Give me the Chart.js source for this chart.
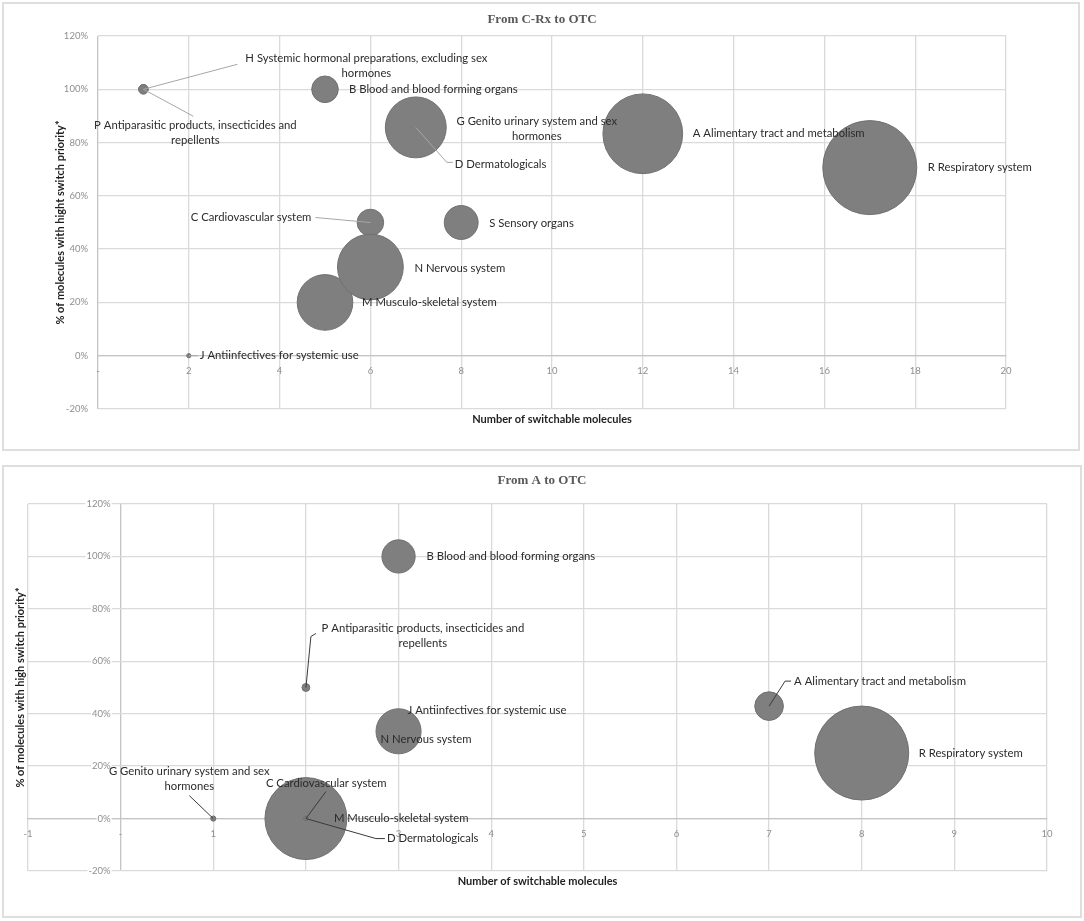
<!DOCTYPE html>
<html><head><meta charset="utf-8">
<script src="https://cdn.jsdelivr.net/npm/chart.js@4.4.1/dist/chart.umd.min.js"></script>
<style>
html,body{margin:0;padding:0;background:#fff;}
body{width:1084px;height:921px;position:relative;overflow:hidden;}
.box{position:absolute;border:2px solid #dedede;box-sizing:border-box;pointer-events:none;}
canvas{position:absolute;left:0;}
</style></head><body>
<div class="box" style="left:2px;top:2px;width:1078px;height:449px"></div>
<div class="box" style="left:2px;top:465px;width:1080px;height:453px"></div>
<canvas id="c1" width="1084" height="456" style="top:0"></canvas>
<canvas id="c2" width="1084" height="465" style="top:456px"></canvas>
<script>
// ---------- DATA: From C-Rx to OTC ----------
const rxCodes = ['A','B','C','D','G','H','J','M','N','P','R','S'];
const rxNames = ['Alimentary tract and metabolism','Blood and blood forming organs','Cardiovascular system','Dermatologicals','Genito urinary system and sex hormones','Systemic hormonal preparations, excluding sex hormones','Antiinfectives for systemic use','Musculo-skeletal system','Nervous system','Antiparasitic products, insecticides and repellents','Respiratory system','Sensory organs'];
const rxMolecules = [12, 5, 6, 7, 7, 1, 2, 5, 6, 1, 17, 8];
const rxHighPct   = [83.3, 100, 50, 85.7, 85.7, 100, 0, 20, 33.3, 100, 70.6, 50];
const rxBubble    = [72, 8, 8, 1, 42, 1, 0.2, 35, 49, 1, 100, 13];

// ---------- DATA: From A to OTC ----------
const aCodes = ['A','B','C','D','G','J','M','N','P','R'];
const aNames = ['Alimentary tract and metabolism','Blood and blood forming organs','Cardiovascular system','Dermatologicals','Genito urinary system and sex hormones','Antiinfectives for systemic use','Musculo-skeletal system','Nervous system','Antiparasitic products, insecticides and repellents','Respiratory system'];
const aMolecules = [7, 3, 2, 2, 1, 3, 2, 3, 2, 8];
const aHighPct   = [42.9, 100, 0, 0, 0, 33.3, 0, 33.3, 50, 25];
const aBubble    = [9.3, 12.5, 76, 0.2, 0.3, 1, 0.2, 23, 0.7, 100];

// ---------- axis ticks ----------
const rxXTicks = {min: 0, max: 20, step: 2};
const aXTicks  = {min: -1, max: 10, step: 1};
const yTicks   = {min: -20, max: 120, step: 20};

// ---------- label placement (pixel offsets from bubble centre) ----------
const rxLabelLayout = {
  A: {dx: 50, dy: 0},
  B: {dx: 24, dy: 0},
  C: {dx: -59, dy: -5, align: 'right', leader: [[0,0],[-55,-5]]},
  D: {dx: 39, dy: 37, leader: [[0,0],[31,35],[37,35]]},
  G: {dx: 121, dy: -6, align: 'center', firstLine: 6},
  H: {dx: 223, dy: -31, align: 'center', firstLine: 6, leader: [[0,0],[94,-25]]},
  J: {dx: 11, dy: 0, leader: [[0,0],[9,0]]},
  M: {dx: 37, dy: 0},
  N: {dx: 44, dy: 1},
  P: {dx: 52, dy: 36, align: 'center', firstLine: 5, leader: [[0,0],[50,27]]},
  R: {dx: 58, dy: 0},
  S: {dx: 28, dy: 1}
};
const aLabelLayout = {
  A: {dx: 25, dy: -25, leader: [[0,0],[16,-25],[22,-25]]},
  B: {dx: 28, dy: 0},
  C: {dx: -40, dy: -35},
  D: {dx: 81, dy: 20, leader: [[0,0],[70,20],[79,20]]},
  G: {dx: -24, dy: -47, align: 'center', firstLine: 6, leader: [[0,0],[-24,-23]]},
  J: {dx: 9, dy: -21},
  M: {dx: 28, dy: 0},
  N: {dx: -18, dy: 8},
  P: {dx: 117, dy: -59, align: 'center', firstLine: 5, leader: [[0,0],[5,-51],[10,-54]]},
  R: {dx: 57, dy: 0}
};
const extraLeaders = { a: {C: [[0,0],[20,-27]]} };

const MAX_R = 47;
const FONT = 'Lato';

function bubbleData(xs, ys, sizes) {
  const mx = Math.max(...sizes);
  return xs.map((x, i) => ({x: x, y: ys[i], r: MAX_R * Math.sqrt(sizes[i] / mx)}));
}

const labelPlugin = {
  id: 'ptLabels',
  afterDatasetsDraw(chart, args, o) {
    const ctx = chart.ctx;
    const meta = chart.getDatasetMeta(0);
    ctx.save();
    o.codes.forEach((code, i) => {
      const el = meta.data[i];
      const L = o.layout[code];
      if (!el || !L) return;
      const cx = el.x, cy = el.y;
      const leader = L.leader || (o.extra && o.extra[code]);
      if (leader) {
        ctx.beginPath();
        leader.forEach((p, k) => { k ? ctx.lineTo(cx + p[0], cy + p[1]) : ctx.moveTo(cx + p[0], cy + p[1]); });
        ctx.strokeStyle = o.leaderColor; ctx.lineWidth = 1; ctx.stroke();
      }
      const text = code + ' ' + o.names[i];
      let lines = [text];
      if (L.firstLine) {
        const w = text.split(' ');
        lines = [w.slice(0, L.firstLine).join(' '), w.slice(L.firstLine).join(' ')];
      }
      ctx.font = '11.3px ' + FONT;
      ctx.fillStyle = '#2b2b2b';
      ctx.textAlign = L.align || 'left';
      ctx.textBaseline = 'middle';
      lines.forEach((ln, k) => ctx.fillText(ln, cx + L.dx, cy + L.dy + k * 15));
    });
    ctx.restore();
  }
};

const decorPlugin = {
  id: 'decor',
  afterDraw(chart, args, o) {
    const ctx = chart.ctx, ca = chart.chartArea;
    ctx.save();
    ctx.textAlign = 'center'; ctx.textBaseline = 'middle';
    ctx.fillStyle = '#595959';
    ctx.font = 'bold 13px "Liberation Serif"';
    ctx.fillText(o.title, chart.width / 2, o.titleY);
    ctx.fillStyle = '#1f1f1f';
    ctx.font = 'bold 11px ' + FONT;
    ctx.fillText(o.xTitle, (ca.left + ca.right) / 2, ca.bottom + 10);
    ctx.translate(o.yTitleX, (ca.top + ca.bottom) / 2);
    ctx.rotate(-Math.PI / 2);
    ctx.fillText(o.yTitle, 0, 0);
    ctx.restore();
  }
};

function makeChart(id, cfg) {
  const tickFont = {family: FONT, size: 9.5};
  new Chart(document.getElementById(id), {
    type: 'bubble',
    data: {datasets: [{
      data: bubbleData(cfg.xs, cfg.ys, cfg.sizes),
      backgroundColor: '#7f7f7f', borderColor: '#707070', borderWidth: 1
    }]},
    options: {
      responsive: false, animation: false, devicePixelRatio: 1,
      layout: {padding: cfg.padding, autoPadding: false},
      events: [],
      plugins: {
        legend: {display: false}, tooltip: {enabled: false}, title: {display: false},
        ptLabels: {codes: cfg.codes, names: cfg.names, layout: cfg.layout, extra: cfg.extra, leaderColor: cfg.leaderColor},
        decor: {title: cfg.title, titleY: cfg.titleY, xTitle: 'Number of switchable molecules', yTitle: cfg.yTitle, yTitleX: cfg.yTitleX}
      },
      scales: {
        x: {
          type: 'linear', position: {y: 0},
          min: cfg.xt.min, max: cfg.xt.max,
          grid: {drawTicks: false, lineWidth: 1.3, color: c => (c.tick && c.tick.value === 0) ? '#c4c4c4' : '#dadada'},
          border: {color: '#c4c4c4', width: 1.3},
          ticks: {stepSize: cfg.xt.step, padding: 10, color: '#8f8f8f', font: tickFont, maxRotation: 0, autoSkip: false,
                  callback: v => v === 0 ? '-' : String(v)}
        },
        y: {
          type: 'linear', position: {x: cfg.yLabelAt},
          min: yTicks.min, max: yTicks.max,
          grid: {drawTicks: false, lineWidth: 1.3, color: '#dadada'},
          border: {display: false},
          ticks: {stepSize: yTicks.step, padding: 0, color: '#8f8f8f', font: tickFont,
                  showLabelBackdrop: cfg.backdrop, backdropColor: '#ffffff', backdropPadding: 1,
                  callback: v => v + '%'}
        }
      }
    },
    plugins: [labelPlugin, decorPlugin]
  });
}

makeChart('c1', {
  xs: rxMolecules, ys: rxHighPct, sizes: rxBubble, codes: rxCodes, names: rxNames,
  layout: rxLabelLayout, extra: null, leaderColor: '#a6a6a6', xt: rxXTicks, yLabelAt: -0.22,
  padding: {left: 98, top: 36, right: 78, bottom: 47},
  title: 'From C-Rx to OTC', titleY: 20,
  yTitle: '% of molecules with hight switch priority*', yTitleX: 60, backdrop: false
});
makeChart('c2', {
  xs: aMolecules, ys: aHighPct, sizes: aBubble, codes: aCodes, names: aNames,
  layout: aLabelLayout, extra: extraLeaders.a, leaderColor: '#3a3a3a', xt: aXTicks, yLabelAt: -0.108,
  padding: {left: 28, top: 48, right: 37, bottom: 50},
  title: 'From A to OTC', titleY: 25,
  yTitle: '% of molecules with high switch priority*', yTitleX: 20, backdrop: true
});
</script>
</body></html>
